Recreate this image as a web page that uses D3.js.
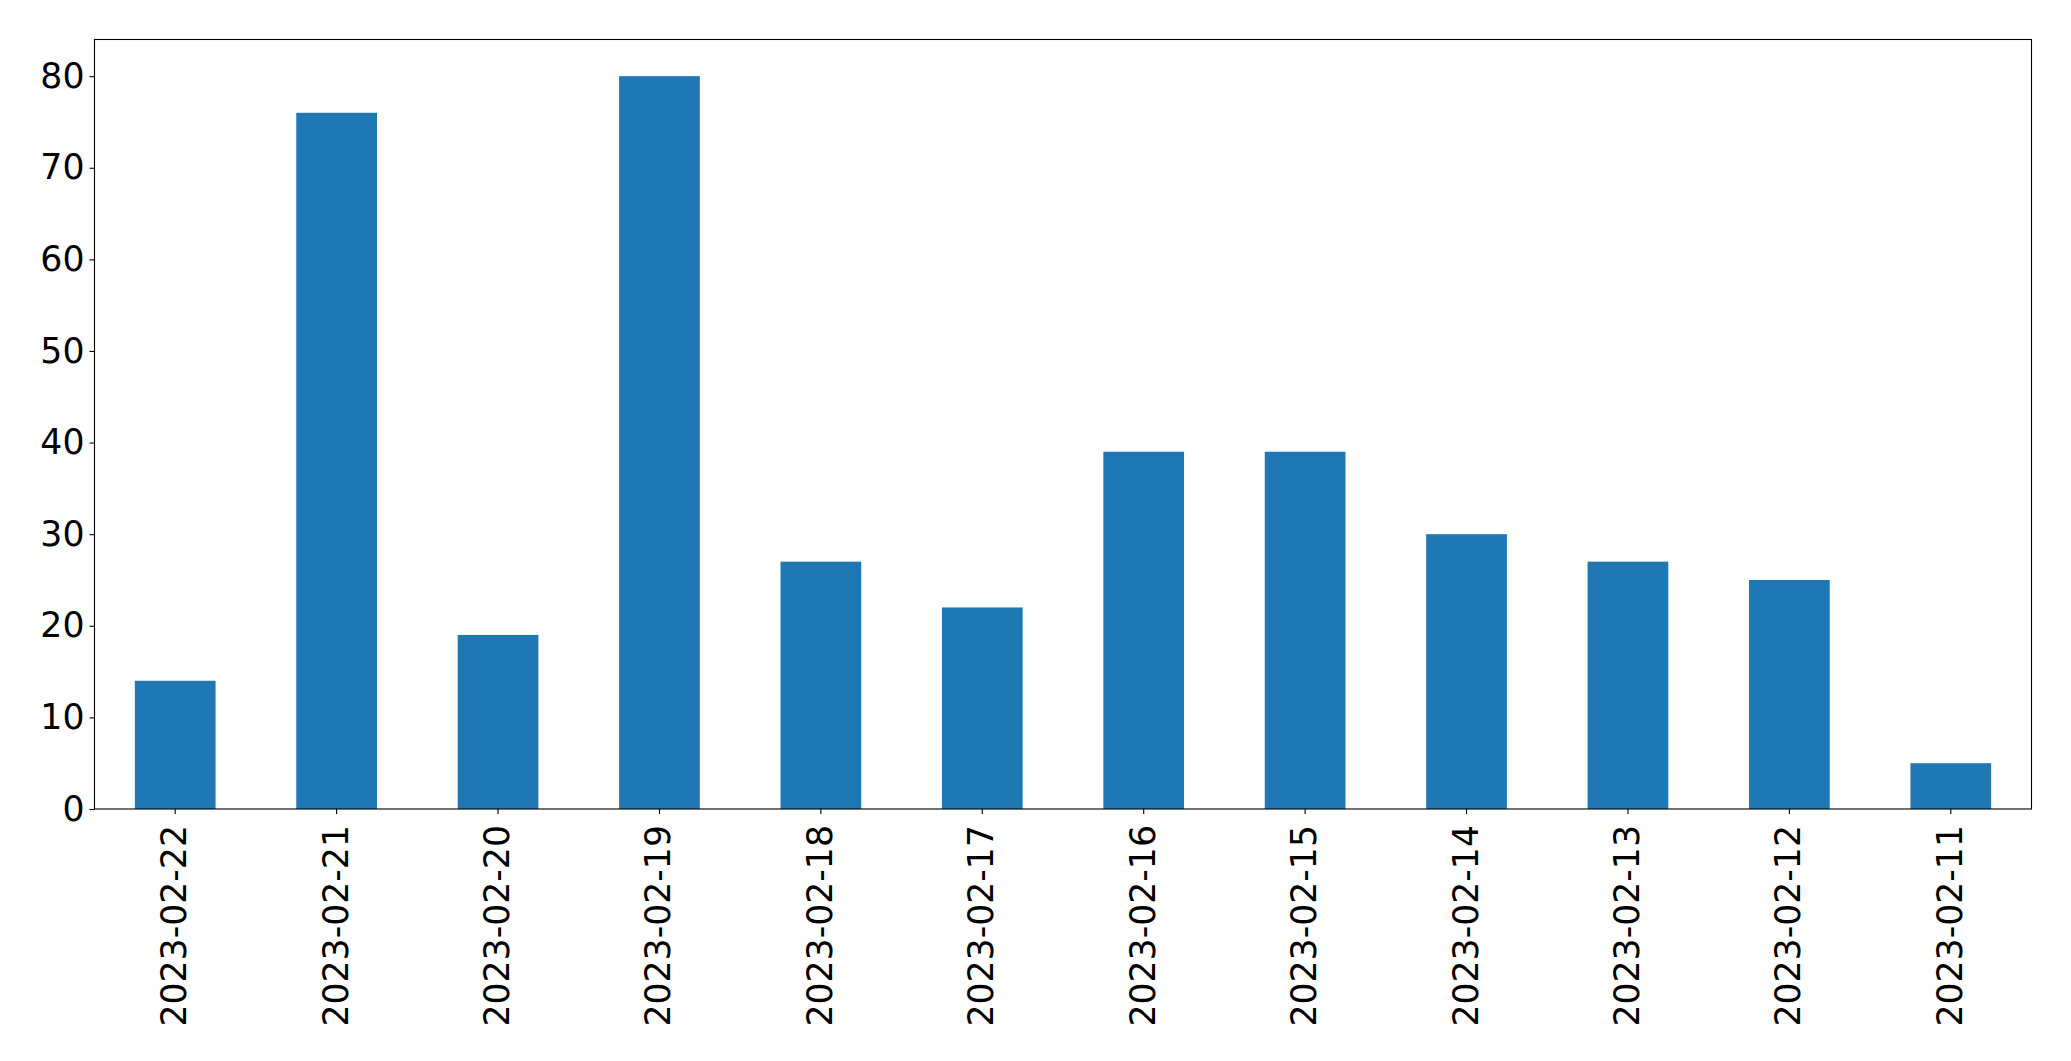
<!DOCTYPE html>
<html>
<head>
<meta charset="utf-8">
<script src="https://cdn.jsdelivr.net/npm/d3@7"></script>
<style>
html,body{margin:0;padding:0;background:#fff;}
svg{display:block;}
</style>
</head>
<body>
<script>
const categories = ["2023-02-22","2023-02-21","2023-02-20","2023-02-19","2023-02-18","2023-02-17","2023-02-16","2023-02-15","2023-02-14","2023-02-13","2023-02-12","2023-02-11"];
const values = [14, 76, 19, 80, 27, 22, 39, 39, 30, 27, 25, 5];
const yTicks = [0, 10, 20, 30, 40, 50, 60, 70, 80];

const W = 2071, H = 1061;
const m = {left: 94.5, right: 2031.5, top: 39.5, bottom: 809};
const fontFamily = "'DejaVu Sans', sans-serif";
const fs = 34.7;

const svg = d3.select("body").append("svg").attr("width", W).attr("height", H);
svg.append("rect").attr("width", W).attr("height", H).attr("fill", "#fff");

const x = d3.scaleBand().domain(categories).range([m.left, m.right]).paddingInner(0.5).paddingOuter(0.25);
const y = d3.scaleLinear().domain([0, 84]).range([m.bottom, m.top]);

svg.append("g").selectAll("rect").data(values).join("rect")
  .attr("x", (d, i) => x(categories[i]))
  .attr("width", x.bandwidth())
  .attr("y", d => y(d))
  .attr("height", d => y(0) - y(d))
  .attr("fill", "#1f77b4");

// frame
svg.append("rect")
  .attr("x", m.left).attr("y", m.top)
  .attr("width", m.right - m.left).attr("height", m.bottom - m.top)
  .attr("fill", "none").attr("stroke", "#000").attr("stroke-width", 1.1);

// y axis
const yAxis = d3.axisLeft(y).tickValues(yTicks).tickSize(5).tickPadding(5).tickSizeOuter(0);
const gy = svg.append("g").attr("transform", `translate(${m.left},0)`).call(yAxis);
gy.select(".domain").remove();
gy.selectAll(".tick line").attr("stroke", "#000").attr("stroke-width", 1.1);
gy.selectAll(".tick text").attr("font-family", fontFamily).attr("font-size", fs).attr("fill", "#000");

// x axis
const xAxis = d3.axisBottom(x).tickSize(5).tickSizeOuter(0);
const gx = svg.append("g").attr("transform", `translate(0,${m.bottom})`).call(xAxis);
gx.select(".domain").remove();
gx.selectAll(".tick line").attr("stroke", "#000").attr("stroke-width", 1.1);
gx.selectAll(".tick text")
  .attr("font-family", fontFamily).attr("font-size", fs).attr("fill", "#000")
  .attr("text-anchor", "end")
  .attr("x", 0).attr("y", 0).attr("dy", null)
  .attr("transform", "translate(11,16) rotate(-90)");
</script>
</body>
</html>
